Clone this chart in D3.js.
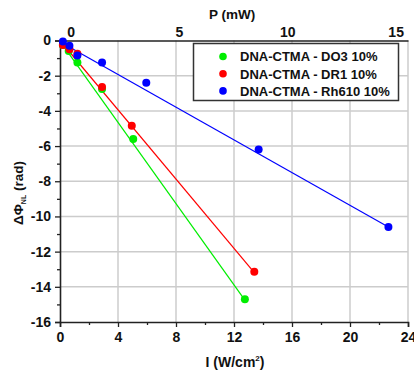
<!DOCTYPE html>
<html>
<head>
<meta charset="utf-8">
<script src="https://cdn.jsdelivr.net/npm/d3@7"></script>
<style>
  html, body { margin: 0; padding: 0; background: #fff; }
  svg { display: block; font-family: "Liberation Sans", Arial, sans-serif; font-weight: bold; }
</style>
</head>
<body>
<svg id="chart" width="414" height="373"></svg>
<script>
// Nonlinear phase shift vs. intensity for three dye-doped DNA-CTMA films
const seriesNames = ["DNA-CTMA - DO3 10%", "DNA-CTMA - DR1 10%", "DNA-CTMA - Rh610 10%"];
const seriesColors = ["#00ee00", "#ff0000", "#0000ff"];

const do3I   = [0.2, 0.6, 1.2, 2.9, 5.05, 12.75];
const do3Phi = [-0.25, -0.6, -1.25, -2.75, -5.6, -14.7];
const dr1I   = [0.2, 0.65, 1.2, 2.9, 4.95, 13.4];
const dr1Phi = [-0.25, -0.5, -0.75, -2.65, -4.85, -13.15];
const rhI    = [0.2, 0.65, 1.2, 2.9, 5.95, 13.7, 22.65];
const rhPhi  = [-0.05, -0.3, -0.85, -1.25, -2.4, -6.2, -10.6];

// Linear fits: phi = intercept + slope * I, drawn from I = 0 to the last point
const fitSlope     = [-1.155, -0.985, -0.465];
const fitIntercept = [-0.03, 0.0, -0.07];

const xTicks = [0, 4, 8, 12, 16, 20, 24];
const xMinorTicks = [2, 6, 10, 14, 18, 22];
const yTicks = [0, -2, -4, -6, -8, -10, -12, -14, -16];
const yMinorTicks = [-1, -3, -5, -7, -9, -11, -13, -15];
const pTicks = [0, 5, 10, 15];

const series = [
  { I: do3I, phi: do3Phi },
  { I: dr1I, phi: dr1Phi },
  { I: rhI, phi: rhPhi }
];

const svg = d3.select("#chart");
const x = d3.scaleLinear().domain([0, 24]).range([60, 408]);
const y = d3.scaleLinear().domain([-16, 0]).range([322, 40.5]);
const xP = d3.scaleLinear().domain([-0.49, 15.57]).range([60, 408]);

// grid
const grid = svg.append("g").attr("stroke", "#cccccc").attr("stroke-width", 1.5);
grid.selectAll(".gx").data(xTicks.filter(d => d > 0)).join("line")
  .attr("x1", d => x(d)).attr("x2", d => x(d))
  .attr("y1", y(0)).attr("y2", y(-16));
grid.selectAll(".gy").data(yTicks.filter(d => d < 0 && d > -16)).join("line")
  .attr("x1", x(0)).attr("x2", x(24))
  .attr("y1", d => y(d)).attr("y2", d => y(d));

// axes
const axisColor = "#222";
svg.append("g").attr("transform", `translate(0,${y(-16)})`)
  .call(d3.axisBottom(x).tickValues(xTicks).tickSize(5).tickPadding(5).tickFormat(d3.format("d")));
svg.append("g").attr("transform", `translate(0,${y(-16)})`)
  .call(d3.axisBottom(x).tickValues(xMinorTicks).tickSize(3).tickFormat(""))
  .call(g => g.select(".domain").remove());
svg.append("g").attr("transform", `translate(${x(0)},0)`)
  .call(d3.axisLeft(y).tickValues(yTicks).tickSize(5).tickPadding(4).tickFormat(d => d3.format("d")(d).replace("−", "-")));
svg.append("g").attr("transform", `translate(${x(0)},0)`)
  .call(d3.axisLeft(y).tickValues(yMinorTicks).tickSize(3).tickFormat(""))
  .call(g => g.select(".domain").remove());
svg.append("g").attr("transform", `translate(0,${y(0)})`)
  .call(d3.axisTop(xP).tickValues(pTicks).tickSize(0).tickPadding(4).tickFormat(d3.format("d")));

svg.selectAll(".domain").attr("stroke", axisColor).attr("stroke-width", 1.6);
svg.selectAll(".tick line").attr("stroke", axisColor).attr("stroke-width", 1.3);
svg.selectAll(".tick text").attr("fill", "#111").attr("font-size", 14)
  .attr("font-family", "'Liberation Sans', Arial, sans-serif").attr("font-weight", "bold");

// fit lines
series.forEach((s, i) => {
  const iEnd = s.I[s.I.length - 1];
  svg.append("line")
    .attr("x1", x(0)).attr("y1", y(fitIntercept[i]))
    .attr("x2", x(iEnd)).attr("y2", y(fitIntercept[i] + fitSlope[i] * iEnd))
    .attr("stroke", seriesColors[i]).attr("stroke-width", 1.2);
});

// data points
series.forEach((s, i) => {
  svg.append("g").selectAll("circle").data(s.I.map((v, k) => [v, s.phi[k]])).join("circle")
    .attr("cx", d => x(d[0])).attr("cy", d => y(d[1])).attr("r", 4)
    .attr("fill", seriesColors[i]);
});

// legend
const lg = svg.append("g");
lg.append("rect").attr("x", 193.5).attr("y", 43.5).attr("width", 205).attr("height", 57)
  .attr("fill", "#fff").attr("stroke", "#333").attr("stroke-width", 1.5);
seriesNames.forEach((name, i) => {
  const cy = 56.5 + i * 17.2;
  lg.append("circle").attr("cx", 223).attr("cy", cy).attr("r", 3.8).attr("fill", seriesColors[i]);
  lg.append("text").attr("x", 240).attr("y", cy + 4.8).attr("font-size", 13)
    .attr("fill", "#111").text(name);
});

// axis titles
svg.append("text").attr("x", 232).attr("y", 19).attr("text-anchor", "middle")
  .attr("font-size", 13.5).attr("fill", "#111").text("P (mW)");

const xt = svg.append("text").attr("x", 235).attr("y", 367).attr("text-anchor", "middle")
  .attr("font-size", 14).attr("fill", "#111");
xt.append("tspan").text("I (W/cm");
xt.append("tspan").attr("font-size", 8).attr("dy", -6).text("2");
xt.append("tspan").attr("dy", 6).text(")");

const yt = svg.append("text").attr("transform", "translate(23,193) rotate(-90)")
  .attr("text-anchor", "middle").attr("font-size", 13.5).attr("fill", "#111");
yt.append("tspan").text("ΔΦ");
yt.append("tspan").attr("font-size", 7).attr("dy", 3).text("NL");
yt.append("tspan").attr("dy", -3).text(" (rad)");
</script>
</body>
</html>
